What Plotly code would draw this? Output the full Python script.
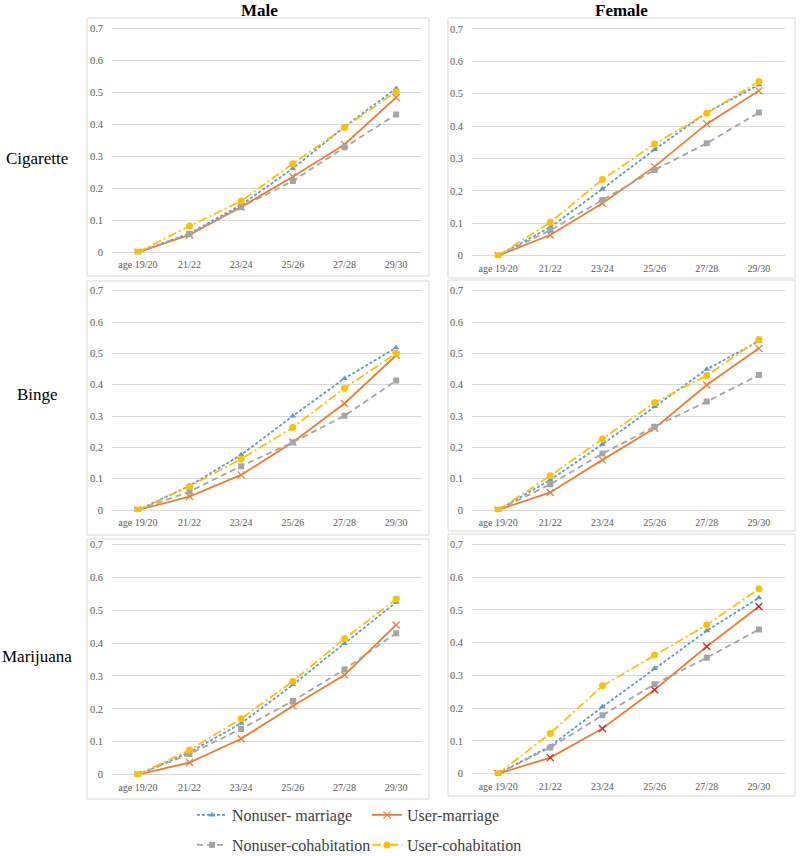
import plotly.graph_objects as go

categories = ["age 19/20", "21/22", "23/24", "25/26", "27/28", "29/30"]
series_names = ["Nonuser- marriage", "User-marriage", "Nonuser-cohabitation", "User-cohabitation"]

# Male - Cigarette
male_cig_nonuser_marriage = [0, 0.059, 0.148, 0.262, 0.392, 0.512]
male_cig_user_marriage = [0, 0.054, 0.142, 0.236, 0.337, 0.484]
male_cig_nonuser_cohab = [0, 0.057, 0.141, 0.223, 0.328, 0.431]
male_cig_user_cohab = [0, 0.082, 0.160, 0.277, 0.390, 0.502]
# Female - Cigarette
female_cig_nonuser_marriage = [0, 0.088, 0.206, 0.328, 0.442, 0.528]
female_cig_user_marriage = [0, 0.064, 0.162, 0.275, 0.407, 0.509]
female_cig_nonuser_cohab = [0, 0.079, 0.172, 0.265, 0.347, 0.442]
female_cig_user_cohab = [0, 0.103, 0.235, 0.345, 0.440, 0.538]
# Male - Binge
male_binge_nonuser_marriage = [0, 0.077, 0.176, 0.300, 0.420, 0.518]
male_binge_user_marriage = [0, 0.043, 0.112, 0.216, 0.340, 0.494]
male_binge_nonuser_cohab = [0, 0.059, 0.140, 0.216, 0.301, 0.413]
male_binge_user_cohab = [0, 0.075, 0.163, 0.263, 0.389, 0.500]
# Female - Binge
female_binge_nonuser_marriage = [0, 0.096, 0.210, 0.330, 0.449, 0.539]
female_binge_user_marriage = [0, 0.056, 0.160, 0.261, 0.399, 0.516]
female_binge_nonuser_cohab = [0, 0.082, 0.180, 0.266, 0.346, 0.431]
female_binge_user_cohab = [0, 0.109, 0.227, 0.343, 0.429, 0.544]
# Male - Marijuana
male_mj_nonuser_marriage = [0, 0.068, 0.156, 0.273, 0.399, 0.524]
male_mj_user_marriage = [0, 0.037, 0.109, 0.209, 0.303, 0.455]
male_mj_nonuser_cohab = [0, 0.063, 0.139, 0.224, 0.320, 0.430]
male_mj_user_cohab = [0, 0.075, 0.170, 0.284, 0.413, 0.534]
# Female - Marijuana
female_mj_nonuser_marriage = [0, 0.084, 0.204, 0.321, 0.436, 0.537]
female_mj_user_marriage = [0, 0.049, 0.138, 0.256, 0.388, 0.510]
female_mj_nonuser_cohab = [0, 0.080, 0.178, 0.273, 0.354, 0.440]
female_mj_user_cohab = [0, 0.123, 0.268, 0.362, 0.454, 0.564]

col_titles = ["Male", "Female"]
row_titles = ["Cigarette", "Binge", "Marijuana"]
y_ticks = [0, 0.1, 0.2, 0.3, 0.4, 0.5, 0.6, 0.7]

panels = [
    [male_cig_nonuser_marriage, male_cig_user_marriage, male_cig_nonuser_cohab, male_cig_user_cohab],
    [female_cig_nonuser_marriage, female_cig_user_marriage, female_cig_nonuser_cohab, female_cig_user_cohab],
    [male_binge_nonuser_marriage, male_binge_user_marriage, male_binge_nonuser_cohab, male_binge_user_cohab],
    [female_binge_nonuser_marriage, female_binge_user_marriage, female_binge_nonuser_cohab, female_binge_user_cohab],
    [male_mj_nonuser_marriage, male_mj_user_marriage, male_mj_nonuser_cohab, male_mj_user_cohab],
    [female_mj_nonuser_marriage, female_mj_user_marriage, female_mj_nonuser_cohab, female_mj_user_cohab],
]

W, H = 800, 856
FONT = "Liberation Serif"
GRID = "#D9D9D9"
TICKC = "#595959"

styles = [
    dict(color="#5B9BD5", dash="3px,2px", symbol="triangle-up", size=6),
    dict(color="#ED7D31", dash="solid", symbol="x-thin", size=7),
    dict(color="#A5A5A5", dash="6px,4px", symbol="square", size=6),
    dict(color="#FFC000", dash="9px,3px,2px,3px", symbol="circle", size=7),
]

# pixel geometry (layout only)
col_x = [(112, 422), (472, 785)]
panel_y = [(252.3, 28.3), (255.7, 29.0), (510, 290.7), (510, 290.7), (774.7, 544.3), (773.7, 544.3)]
boxes = [(87, 18, 429, 276), (448, 18, 795, 278), (87, 281, 429, 535), (448, 280, 795, 531),
         (87, 539, 429, 799), (448, 534, 795, 796)]

E = 0.006

def px(x):
    return x / W

def py(y):
    return 1 - y / H

fig = go.Figure()
layout = {}
for i, series in enumerate(panels):
    r, c = divmod(i, 2)
    n = i + 1
    xa = "x" if n == 1 else f"x{n}"
    ya = "y" if n == 1 else f"y{n}"
    for k, vals in enumerate(series):
        st = styles[k]
        mcolor = st["color"]
        if i == 5 and k == 1:
            mcolor = "#E0201B"
        marker = dict(symbol=st["symbol"], size=st["size"], color=mcolor)
        if st["symbol"] == "x-thin":
            marker["line"] = dict(color=mcolor, width=1.3)
        fig.add_trace(go.Scatter(
            x=categories, y=vals, mode="lines+markers", name=series_names[k],
            line=dict(color=st["color"], width=1.8, dash=st["dash"]),
            marker=marker, xaxis=xa, yaxis=ya,
            showlegend=(i == 0), legend=("legend" if k < 2 else "legend2"),
            hoverinfo="skip",
        ))
    zero, top = panel_y[i]
    s = (zero - top) / 0.7
    x0, x1 = col_x[c]
    layout["xaxis" if n == 1 else f"xaxis{n}"] = dict(
        domain=[px(x0), px(x1)], anchor=ya, type="category", range=[-0.5, 5.5],
        showgrid=False, zeroline=False, showline=False, ticks="",
        tickfont=dict(family=FONT, size=10, color=TICKC), ticklabelstandoff=3,
    )
    layout["yaxis" if n == 1 else f"yaxis{n}"] = dict(
        domain=[py(zero + E * s), py(top - E * s)], anchor=xa, range=[-E, 0.7 + E],
        tickvals=y_ticks, ticktext=[("0" if v == 0 else f"{v:.1f}") for v in y_ticks],
        showgrid=True, gridcolor=GRID, gridwidth=1, zeroline=False, showline=False, ticks="",
        tickfont=dict(family=FONT, size=10.5, color=TICKC), ticklabelstandoff=8,
    )

shapes = []
for (bx0, by0, bx1, by1) in boxes:
    shapes.append(dict(type="rect", xref="paper", yref="paper", x0=px(bx0), x1=px(bx1),
                       y0=py(by1), y1=py(by0), line=dict(color=GRID, width=1), layer="below"))

annotations = []
for c, t in enumerate(col_titles):
    annotations.append(dict(text=f"<b>{t}</b>", x=px(259 if c == 0 else 621), y=py(10), xref="paper", yref="paper",
                            showarrow=False, xanchor="center", yanchor="middle",
                            font=dict(family=FONT, size=17, color="#000000")))
for r, t in enumerate(row_titles):
    annotations.append(dict(text=t, x=px(37), y=py([158, 394, 656][r]), xref="paper", yref="paper",
                            showarrow=False, xanchor="center", yanchor="middle",
                            font=dict(family=FONT, size=17, color="#000000")))

legend_common = dict(orientation="h", xanchor="left", yanchor="middle", entrywidth=130,
                     entrywidthmode="pixels", bgcolor="rgba(0,0,0,0)",
                     font=dict(family=FONT, size=16, color="#404040"), itemclick=False)

fig.update_layout(
    width=W, height=H, margin=dict(l=0, r=0, t=0, b=0, autoexpand=False),
    paper_bgcolor="white", plot_bgcolor="white",
    shapes=shapes, annotations=annotations,
    legend=dict(x=px(192), y=py(815), **legend_common),
    legend2=dict(x=px(192), y=py(845), **legend_common),
    **layout,
)

fig.write_html("out.html", config={"displayModeBar": False},
               post_script="document.body.style.margin='0';document.body.style.overflow='hidden';")
